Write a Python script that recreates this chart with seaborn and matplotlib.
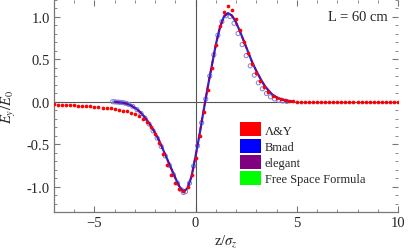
import numpy as np
import pandas as pd
import matplotlib
matplotlib.use("Agg")
import matplotlib.pyplot as plt
import seaborn as sns
from matplotlib.patches import Patch
from matplotlib.ticker import MultipleLocator

# ---- data ----
ay_z = [-7.0, -6.8, -6.6, -6.4, -6.2, -6.0, -5.8, -5.6, -5.4, -5.2, -5.0, -4.8, -4.6, -4.4, -4.2,
        -4.0, -3.8, -3.6, -3.4, -3.2, -3.0, -2.8, -2.6, -2.4, -2.2, -2.0, -1.8, -1.6, -1.4, -1.2,
        -1.0, -0.8, -0.6, -0.4, -0.2, 0.0, 0.2, 0.4, 0.6, 0.8, 1.0, 1.2, 1.4, 1.6, 1.8,
        2.0, 2.2, 2.4, 2.6, 2.8, 3.0, 3.2, 3.4, 3.6, 3.8, 4.0, 4.2, 4.4, 4.6, 4.8,
        5.0, 5.2, 5.4, 5.6, 5.8, 6.0, 6.2, 6.4, 6.6, 6.8, 7.0, 7.2, 7.4, 7.6, 7.8,
        8.0, 8.2, 8.4, 8.6, 8.8, 9.0, 9.2, 9.4, 9.6, 9.8, 10.0]
ay_E = [-0.035, -0.037, -0.039, -0.041, -0.043, -0.045, -0.048, -0.051, -0.054, -0.058, -0.062,
        -0.066, -0.071, -0.076, -0.082, -0.089, -0.097, -0.106, -0.117, -0.131, -0.148, -0.170,
        -0.200, -0.243, -0.300, -0.380, -0.490, -0.620, -0.750, -0.860, -0.955, -1.025, -1.050,
        -1.010, -0.870, -0.660, -0.400, -0.120, 0.140, 0.390, 0.660, 0.890, 1.050, 1.120, 1.080,
        0.970, 0.840, 0.700, 0.570, 0.440, 0.330, 0.240, 0.170, 0.110, 0.070, 0.040, 0.025, 0.012,
        0.005, 0.002, 0.0, 0.0, 0.0, 0.0, 0.0, 0.0, 0.0, 0.0, 0.0, 0.0, 0.0, 0.0, 0.0, 0.0, 0.0,
        0.0, 0.0, 0.0, 0.0, 0.0, 0.0, 0.0, 0.0, 0.0, 0.0, 0.0]

bmad_z = [-4.0, -3.8, -3.6, -3.4, -3.2, -3.0, -2.8, -2.6, -2.4, -2.2, -2.0, -1.8, -1.6, -1.4, -1.2,
          -1.0, -0.8, -0.6, -0.4, -0.2, 0.0, 0.2, 0.4, 0.6, 0.8, 1.0, 1.2, 1.4, 1.6, 1.8,
          2.0, 2.2, 2.4, 2.6, 2.8, 3.0, 3.2, 3.4, 3.6, 3.8, 4.0, 4.2, 4.4, 4.6, 4.8]
bmad_E = [-0.005, -0.010, -0.015, -0.025, -0.045, -0.075, -0.110, -0.160, -0.220, -0.290, -0.370,
          -0.460, -0.570, -0.680, -0.790, -0.900, -1.000, -1.060, -1.020, -0.880, -0.640, -0.380,
          -0.100, 0.170, 0.420, 0.670, 0.870, 1.000, 1.040, 1.010, 0.930, 0.820, 0.700, 0.580,
          0.460, 0.360, 0.270, 0.190, 0.130, 0.080, 0.050, 0.030, 0.015, 0.005, 0.000]

elegant_z = bmad_z
elegant_E = [-0.005, -0.010, -0.016, -0.026, -0.046, -0.076, -0.112, -0.162, -0.222, -0.292, -0.372,
             -0.462, -0.572, -0.682, -0.792, -0.902, -1.002, -1.058, -1.018, -0.878, -0.638, -0.378,
             -0.098, 0.172, 0.422, 0.672, 0.872, 1.000, 1.040, 1.010, 0.930, 0.820, 0.700, 0.580,
             0.460, 0.360, 0.270, 0.190, 0.130, 0.080, 0.050, 0.030, 0.015, 0.005, 0.000]

circ_z = [-4.1, -4.0, -3.9, -3.8, -3.7, -3.6, -3.5, -3.4, -3.3, -3.1, -2.9, -2.7, -2.5, -2.3, -2.1,
          -1.9, -1.7, -1.5, -1.3, -1.1, -0.9, -0.7, -0.6, -0.5, -0.3, -0.1, 0.1, 0.3, 0.5, 0.7,
          0.9, 1.1, 1.3, 1.5, 1.7, 1.9, 2.1, 2.3, 2.5, 2.7, 2.9, 3.1, 3.3, 3.5, 3.7, 3.9, 4.1, 4.3, 4.5]
circ_E = [-0.002, -0.004, -0.006, -0.008, -0.010, -0.013, -0.018, -0.025, -0.035, -0.060, -0.095,
          -0.140, -0.195, -0.265, -0.345, -0.430, -0.530, -0.640, -0.750, -0.860, -0.960, -1.040,
          -1.070, -1.060, -0.960, -0.760, -0.520, -0.250, 0.030, 0.300, 0.550, 0.780, 0.940, 1.010,
          1.000, 0.920, 0.800, 0.670, 0.540, 0.420, 0.310, 0.220, 0.150, 0.095, 0.055, 0.030, 0.015,
          0.006, 0.001]

legend_labels = ["\u039b&Y", "Bmad", "elegant", "Free Space Formula"]
legend_colors = ["#ff0000", "#0000ff", "#800080", "#00ff00"]

# ---- style ----
sns.set_style("ticks")
plt.rcParams["font.family"] = ["Liberation Serif", "DejaVu Serif"]
plt.rcParams["mathtext.fontset"] = "stix"

fig = plt.figure(figsize=(4.15, 2.53), dpi=100)
ax = fig.add_axes([0.130, 0.158, 0.829, 0.840])

ay_df = pd.DataFrame({"z": ay_z, "E": ay_E})
bmad_df = pd.DataFrame({"z": bmad_z, "E": bmad_E})
el_df = pd.DataFrame({"z": elegant_z, "E": elegant_E})
circ_df = pd.DataFrame({"z": circ_z, "E": circ_E})

ax.axhline(0, color="#555555", lw=0.8, zorder=1)
ax.axvline(0, color="#555555", lw=0.8, zorder=1)

sns.scatterplot(data=circ_df, x="z", y="E", ax=ax, marker="o", s=9,
                facecolor="none", edgecolor="#8080d8", linewidth=0.7, zorder=2)
sns.lineplot(data=bmad_df, x="z", y="E", ax=ax, color="#2b2bd0", lw=1.6, zorder=3)
sns.lineplot(data=el_df, x="z", y="E", ax=ax, color="#800080", lw=1.2,
             linestyle=(0, (3, 2)), zorder=4)
sns.scatterplot(data=ay_df, x="z", y="E", ax=ax, color="#ff0000", s=7,
                linewidth=0, zorder=5)

ax.set_xlim(-7, 10)
ax.set_ylim(-1.3, 1.2)
ax.xaxis.set_major_locator(MultipleLocator(5))
ax.xaxis.set_minor_locator(MultipleLocator(1))
ax.yaxis.set_major_locator(MultipleLocator(0.5))
ax.yaxis.set_minor_locator(MultipleLocator(0.1))
ax.yaxis.set_major_formatter(matplotlib.ticker.FormatStrFormatter("%.1f"))
ax.tick_params(which="both", direction="in", top=True, right=True, color="#777777",
               labelsize=10.5, pad=3)
ax.tick_params(which="major", length=4, width=0.8)
ax.tick_params(which="minor", length=2, width=0.6)
for s in ["top", "right"]:
    ax.spines[s].set_visible(False)
for s in ["left", "bottom"]:
    ax.spines[s].set_color("#777777")
    ax.spines[s].set_linewidth(0.9)

ax.set_xlabel(r"z/$\sigma_z$", fontsize=10.5, labelpad=2)
ax.set_ylabel(r"$E_y/E_0$", fontsize=10.5, labelpad=6)

ax.text(0.971, 0.92, "L = 60 cm", transform=ax.transAxes, ha="right", va="center",
        fontsize=10.5)

handles = [Patch(facecolor=c, edgecolor="none") for c in legend_colors]
ax.legend(handles, legend_labels, loc="upper left", bbox_to_anchor=(0.525, 0.445),
          frameon=False, fontsize=9, handlelength=1.7, handleheight=1.35,
          labelspacing=0.15, handletextpad=0.3, borderaxespad=0)

fig.savefig("out.png", dpi=100)
